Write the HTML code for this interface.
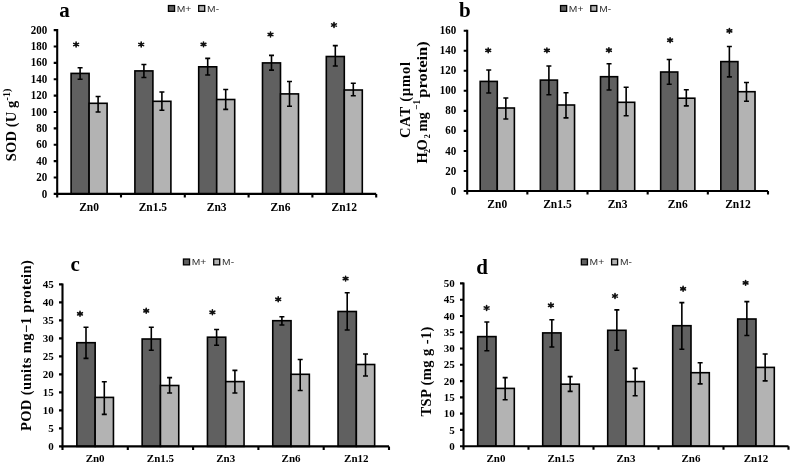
<!DOCTYPE html>
<html><head><meta charset="utf-8"><style>
html,body{margin:0;padding:0;background:#fff;}
body{width:792px;height:465px;overflow:hidden;}
svg{display:block;filter:grayscale(1);}
text{font-family:'Liberation Serif', serif;}
.tl{font-size:11px;font-weight:bold;text-anchor:end;}
.cl{font-weight:bold;text-anchor:middle;}
.ti{font-size:21px;font-weight:bold;}
.st{font-size:15px;font-family:'Liberation Sans', sans-serif;text-anchor:middle;fill:#222;}
.lg{font-size:8.5px;font-family:'Liberation Sans', sans-serif;fill:#333;}
.yl{font-size:14.5px;font-weight:bold;}
</style></head><body>
<svg width="792" height="465" viewBox="0 0 792 465">
<g>
<rect width="792" height="465" fill="#fff"/>
<rect x="71.1" y="73.4" width="18" height="120.5" fill="#606060" stroke="#000" stroke-width="1.6"/>
<rect x="89.1" y="103.3" width="18" height="90.6" fill="#b3b3b3" stroke="#000" stroke-width="1.6"/>
<path d="M80.1 67.8V79.2M77.6 67.8H82.6M77.6 79.2H82.6" stroke="#000" stroke-width="1.6" fill="none"/>
<path d="M98.1 96.5V112M95.6 96.5H100.6M95.6 112H100.6" stroke="#000" stroke-width="1.6" fill="none"/>
<path d="M76.1 42.1L76.1 46.9M73.71 43.38L78.49 45.62M78.49 43.38L73.71 45.62" stroke="#111" stroke-width="1.6" stroke-linecap="round" fill="none"/><circle cx="76.1" cy="44.5" r="1.3" fill="#111"/>
<text x="89.1" y="210.8" class="cl" font-size="11.5">Zn0</text>
<rect x="134.9" y="70.9" width="18" height="123" fill="#606060" stroke="#000" stroke-width="1.6"/>
<rect x="152.9" y="101.3" width="18" height="92.6" fill="#b3b3b3" stroke="#000" stroke-width="1.6"/>
<path d="M143.9 64.5V77.5M141.4 64.5H146.4M141.4 77.5H146.4" stroke="#000" stroke-width="1.6" fill="none"/>
<path d="M161.9 92V110.2M159.4 92H164.4M159.4 110.2H164.4" stroke="#000" stroke-width="1.6" fill="none"/>
<path d="M141.2 42.1L141.2 46.9M138.81 43.38L143.59 45.62M143.59 43.38L138.81 45.62" stroke="#111" stroke-width="1.6" stroke-linecap="round" fill="none"/><circle cx="141.2" cy="44.5" r="1.3" fill="#111"/>
<text x="152.9" y="210.8" class="cl" font-size="11.5">Zn1.5</text>
<rect x="198.7" y="66.8" width="18" height="127.1" fill="#606060" stroke="#000" stroke-width="1.6"/>
<rect x="216.7" y="99.5" width="18" height="94.4" fill="#b3b3b3" stroke="#000" stroke-width="1.6"/>
<path d="M207.7 58.4V75M205.2 58.4H210.2M205.2 75H210.2" stroke="#000" stroke-width="1.6" fill="none"/>
<path d="M225.7 89.5V109.4M223.2 89.5H228.2M223.2 109.4H228.2" stroke="#000" stroke-width="1.6" fill="none"/>
<path d="M203.5 42L203.5 46.8M201.11 43.28L205.89 45.52M205.89 43.28L201.11 45.52" stroke="#111" stroke-width="1.6" stroke-linecap="round" fill="none"/><circle cx="203.5" cy="44.4" r="1.3" fill="#111"/>
<text x="216.7" y="210.8" class="cl" font-size="11.5">Zn3</text>
<rect x="262.5" y="62.9" width="18" height="131" fill="#606060" stroke="#000" stroke-width="1.6"/>
<rect x="280.5" y="93.9" width="18" height="100" fill="#b3b3b3" stroke="#000" stroke-width="1.6"/>
<path d="M271.5 55.4V70.1M269 55.4H274M269 70.1H274" stroke="#000" stroke-width="1.6" fill="none"/>
<path d="M289.5 81.5V106.3M287 81.5H292M287 106.3H292" stroke="#000" stroke-width="1.6" fill="none"/>
<path d="M270.5 32.1L270.5 36.9M268.11 33.38L272.89 35.62M272.89 33.38L268.11 35.62" stroke="#111" stroke-width="1.6" stroke-linecap="round" fill="none"/><circle cx="270.5" cy="34.5" r="1.3" fill="#111"/>
<text x="280.5" y="210.8" class="cl" font-size="11.5">Zn6</text>
<rect x="326.3" y="56.5" width="18" height="137.4" fill="#606060" stroke="#000" stroke-width="1.6"/>
<rect x="344.3" y="90" width="18" height="103.9" fill="#b3b3b3" stroke="#000" stroke-width="1.6"/>
<path d="M335.3 45.6V66M332.8 45.6H337.8M332.8 66H337.8" stroke="#000" stroke-width="1.6" fill="none"/>
<path d="M353.3 83.3V95.7M350.8 83.3H355.8M350.8 95.7H355.8" stroke="#000" stroke-width="1.6" fill="none"/>
<path d="M334 22.6L334 27.4M331.61 23.88L336.39 26.12M336.39 23.88L331.61 26.12" stroke="#111" stroke-width="1.6" stroke-linecap="round" fill="none"/><circle cx="334" cy="25" r="1.3" fill="#111"/>
<text x="344.3" y="210.8" class="cl" font-size="11.5">Zn12</text>
<path d="M57.2 29.1V193.9H376.2" stroke="#000" stroke-width="2.1" fill="none"/>
<text transform="translate(47.3 197.5) scale(1 1.12)" class="tl">0</text>
<text transform="translate(47.3 181.12) scale(1 1.12)" class="tl">20</text>
<text transform="translate(47.3 164.74) scale(1 1.12)" class="tl">40</text>
<text transform="translate(47.3 148.36) scale(1 1.12)" class="tl">60</text>
<text transform="translate(47.3 131.98) scale(1 1.12)" class="tl">80</text>
<text transform="translate(47.3 115.6) scale(1 1.12)" class="tl">100</text>
<text transform="translate(47.3 99.22) scale(1 1.12)" class="tl">120</text>
<text transform="translate(47.3 82.84) scale(1 1.12)" class="tl">140</text>
<text transform="translate(47.3 66.46) scale(1 1.12)" class="tl">160</text>
<text transform="translate(47.3 50.08) scale(1 1.12)" class="tl">180</text>
<text transform="translate(47.3 33.7) scale(1 1.12)" class="tl">200</text>
<path d="M53.7 193.9H57.2M53.7 177.52H57.2M53.7 161.14H57.2M53.7 144.76H57.2M53.7 128.38H57.2M53.7 112H57.2M53.7 95.62H57.2M53.7 79.24H57.2M53.7 62.86H57.2M53.7 46.48H57.2M53.7 30.1H57.2M57.2 193.9V197.4M121 193.9V197.4M184.8 193.9V197.4M248.6 193.9V197.4M312.4 193.9V197.4M376.2 193.9V197.4" stroke="#000" stroke-width="2.1" fill="none"/>
<text x="59.3" y="17" class="ti">a</text>
<rect x="168.45" y="5.55" width="6.1" height="5.8" fill="#606060" stroke="#000" stroke-width="1.3"/>
<text x="176.7" y="11.9" class="lg" textLength="14.6" lengthAdjust="spacingAndGlyphs">M+</text>
<rect x="198.7" y="5.55" width="6" height="5.8" fill="#b3b3b3" stroke="#000" stroke-width="1.3"/>
<text x="207.1" y="11.9" class="lg" textLength="12" lengthAdjust="spacingAndGlyphs">M-</text>
<rect x="480.18" y="81.4" width="17.1" height="109.6" fill="#606060" stroke="#000" stroke-width="1.6"/>
<rect x="497.28" y="108" width="17.1" height="83" fill="#b3b3b3" stroke="#000" stroke-width="1.6"/>
<path d="M488.73 70V93M486.23 70H491.23M486.23 93H491.23" stroke="#000" stroke-width="1.6" fill="none"/>
<path d="M505.83 98V119M503.33 98H508.33M503.33 119H508.33" stroke="#000" stroke-width="1.6" fill="none"/>
<path d="M488.2 48L488.2 52.8M485.81 49.28L490.59 51.52M490.59 49.28L485.81 51.52" stroke="#111" stroke-width="1.6" stroke-linecap="round" fill="none"/><circle cx="488.2" cy="50.4" r="1.3" fill="#111"/>
<text x="497.28" y="207.9" class="cl" font-size="11.5">Zn0</text>
<rect x="540.34" y="80.1" width="17.1" height="110.9" fill="#606060" stroke="#000" stroke-width="1.6"/>
<rect x="557.44" y="105" width="17.1" height="86" fill="#b3b3b3" stroke="#000" stroke-width="1.6"/>
<path d="M548.89 66V94.7M546.39 66H551.39M546.39 94.7H551.39" stroke="#000" stroke-width="1.6" fill="none"/>
<path d="M565.99 92.7V117.9M563.49 92.7H568.49M563.49 117.9H568.49" stroke="#000" stroke-width="1.6" fill="none"/>
<path d="M546.9 48L546.9 52.8M544.51 49.28L549.29 51.52M549.29 49.28L544.51 51.52" stroke="#111" stroke-width="1.6" stroke-linecap="round" fill="none"/><circle cx="546.9" cy="50.4" r="1.3" fill="#111"/>
<text x="557.44" y="207.9" class="cl" font-size="11.5">Zn1.5</text>
<rect x="600.5" y="76.7" width="17.1" height="114.3" fill="#606060" stroke="#000" stroke-width="1.6"/>
<rect x="617.6" y="102.3" width="17.1" height="88.7" fill="#b3b3b3" stroke="#000" stroke-width="1.6"/>
<path d="M609.05 63.7V90M606.55 63.7H611.55M606.55 90H611.55" stroke="#000" stroke-width="1.6" fill="none"/>
<path d="M626.15 87.2V115.8M623.65 87.2H628.65M623.65 115.8H628.65" stroke="#000" stroke-width="1.6" fill="none"/>
<path d="M608.9 47.8L608.9 52.6M606.51 49.08L611.29 51.32M611.29 49.08L606.51 51.32" stroke="#111" stroke-width="1.6" stroke-linecap="round" fill="none"/><circle cx="608.9" cy="50.2" r="1.3" fill="#111"/>
<text x="617.6" y="207.9" class="cl" font-size="11.5">Zn3</text>
<rect x="660.66" y="72" width="17.1" height="119" fill="#606060" stroke="#000" stroke-width="1.6"/>
<rect x="677.76" y="98.2" width="17.1" height="92.8" fill="#b3b3b3" stroke="#000" stroke-width="1.6"/>
<path d="M669.21 59.5V84.3M666.71 59.5H671.71M666.71 84.3H671.71" stroke="#000" stroke-width="1.6" fill="none"/>
<path d="M686.31 89.7V105.9M683.81 89.7H688.81M683.81 105.9H688.81" stroke="#000" stroke-width="1.6" fill="none"/>
<path d="M670.1 37.8L670.1 42.6M667.71 39.08L672.49 41.32M672.49 39.08L667.71 41.32" stroke="#111" stroke-width="1.6" stroke-linecap="round" fill="none"/><circle cx="670.1" cy="40.2" r="1.3" fill="#111"/>
<text x="677.76" y="207.9" class="cl" font-size="11.5">Zn6</text>
<rect x="720.82" y="61.6" width="17.1" height="129.4" fill="#606060" stroke="#000" stroke-width="1.6"/>
<rect x="737.92" y="91.7" width="17.1" height="99.3" fill="#b3b3b3" stroke="#000" stroke-width="1.6"/>
<path d="M729.37 46.5V76.9M726.87 46.5H731.87M726.87 76.9H731.87" stroke="#000" stroke-width="1.6" fill="none"/>
<path d="M746.47 82.5V101.3M743.97 82.5H748.97M743.97 101.3H748.97" stroke="#000" stroke-width="1.6" fill="none"/>
<path d="M729.4 28.5L729.4 33.3M727.01 29.78L731.79 32.02M731.79 29.78L727.01 32.02" stroke="#111" stroke-width="1.6" stroke-linecap="round" fill="none"/><circle cx="729.4" cy="30.9" r="1.3" fill="#111"/>
<text x="737.92" y="207.9" class="cl" font-size="11.5">Zn12</text>
<path d="M467.2 29.7V191H768" stroke="#000" stroke-width="2.1" fill="none"/>
<text transform="translate(456.2 194.6) scale(1 1.12)" class="tl">0</text>
<text transform="translate(456.2 174.56) scale(1 1.12)" class="tl">20</text>
<text transform="translate(456.2 154.53) scale(1 1.12)" class="tl">40</text>
<text transform="translate(456.2 134.49) scale(1 1.12)" class="tl">60</text>
<text transform="translate(456.2 114.45) scale(1 1.12)" class="tl">80</text>
<text transform="translate(456.2 94.41) scale(1 1.12)" class="tl">100</text>
<text transform="translate(456.2 74.37) scale(1 1.12)" class="tl">120</text>
<text transform="translate(456.2 54.34) scale(1 1.12)" class="tl">140</text>
<text transform="translate(456.2 34.3) scale(1 1.12)" class="tl">160</text>
<path d="M463.7 191H467.2M463.7 170.96H467.2M463.7 150.93H467.2M463.7 130.89H467.2M463.7 110.85H467.2M463.7 90.81H467.2M463.7 70.77H467.2M463.7 50.74H467.2M463.7 30.7H467.2M467.2 191V194.5M527.36 191V194.5M587.52 191V194.5M647.68 191V194.5M707.84 191V194.5M768 191V194.5" stroke="#000" stroke-width="2.1" fill="none"/>
<text x="459" y="17" class="ti">b</text>
<rect x="560.55" y="5.55" width="6.1" height="5.8" fill="#606060" stroke="#000" stroke-width="1.3"/>
<text x="568.8" y="11.9" class="lg" textLength="14.6" lengthAdjust="spacingAndGlyphs">M+</text>
<rect x="590.8" y="5.55" width="6" height="5.8" fill="#b3b3b3" stroke="#000" stroke-width="1.3"/>
<text x="599.2" y="11.9" class="lg" textLength="12" lengthAdjust="spacingAndGlyphs">M-</text>
<rect x="76.85" y="342.7" width="18.3" height="103.7" fill="#606060" stroke="#000" stroke-width="1.6"/>
<rect x="95.15" y="397.4" width="18.3" height="49" fill="#b3b3b3" stroke="#000" stroke-width="1.6"/>
<path d="M86 327.2V358.4M83.5 327.2H88.5M83.5 358.4H88.5" stroke="#000" stroke-width="1.6" fill="none"/>
<path d="M104.3 381.8V414.4M101.8 381.8H106.8M101.8 414.4H106.8" stroke="#000" stroke-width="1.6" fill="none"/>
<path d="M80 311.4L80 316.2M77.61 312.68L82.39 314.92M82.39 312.68L77.61 314.92" stroke="#111" stroke-width="1.6" stroke-linecap="round" fill="none"/><circle cx="80" cy="313.8" r="1.3" fill="#111"/>
<text x="95.15" y="462.3" class="cl" font-size="11">Zn0</text>
<rect x="142.15" y="339" width="18.3" height="107.4" fill="#606060" stroke="#000" stroke-width="1.6"/>
<rect x="160.45" y="385.5" width="18.3" height="60.9" fill="#b3b3b3" stroke="#000" stroke-width="1.6"/>
<path d="M151.3 327.3V350.3M148.8 327.3H153.8M148.8 350.3H153.8" stroke="#000" stroke-width="1.6" fill="none"/>
<path d="M169.6 377.6V393M167.1 377.6H172.1M167.1 393H172.1" stroke="#000" stroke-width="1.6" fill="none"/>
<path d="M146.2 308.4L146.2 313.2M143.81 309.68L148.59 311.92M148.59 309.68L143.81 311.92" stroke="#111" stroke-width="1.6" stroke-linecap="round" fill="none"/><circle cx="146.2" cy="310.8" r="1.3" fill="#111"/>
<text x="160.45" y="462.3" class="cl" font-size="11">Zn1.5</text>
<rect x="207.45" y="337.2" width="18.3" height="109.2" fill="#606060" stroke="#000" stroke-width="1.6"/>
<rect x="225.75" y="381.6" width="18.3" height="64.8" fill="#b3b3b3" stroke="#000" stroke-width="1.6"/>
<path d="M216.6 329.5V345.3M214.1 329.5H219.1M214.1 345.3H219.1" stroke="#000" stroke-width="1.6" fill="none"/>
<path d="M234.9 370.4V393M232.4 370.4H237.4M232.4 393H237.4" stroke="#000" stroke-width="1.6" fill="none"/>
<path d="M212.4 309.9L212.4 314.7M210.01 311.18L214.79 313.42M214.79 311.18L210.01 313.42" stroke="#111" stroke-width="1.6" stroke-linecap="round" fill="none"/><circle cx="212.4" cy="312.3" r="1.3" fill="#111"/>
<text x="225.75" y="462.3" class="cl" font-size="11">Zn3</text>
<rect x="272.75" y="320.7" width="18.3" height="125.7" fill="#606060" stroke="#000" stroke-width="1.6"/>
<rect x="291.05" y="374.3" width="18.3" height="72.1" fill="#b3b3b3" stroke="#000" stroke-width="1.6"/>
<path d="M281.9 316.8V325M279.4 316.8H284.4M279.4 325H284.4" stroke="#000" stroke-width="1.6" fill="none"/>
<path d="M300.2 359.5V390.5M297.7 359.5H302.7M297.7 390.5H302.7" stroke="#000" stroke-width="1.6" fill="none"/>
<path d="M278.2 296.9L278.2 301.7M275.81 298.18L280.59 300.42M280.59 298.18L275.81 300.42" stroke="#111" stroke-width="1.6" stroke-linecap="round" fill="none"/><circle cx="278.2" cy="299.3" r="1.3" fill="#111"/>
<text x="291.05" y="462.3" class="cl" font-size="11">Zn6</text>
<rect x="338.05" y="311.5" width="18.3" height="134.9" fill="#606060" stroke="#000" stroke-width="1.6"/>
<rect x="356.35" y="364.5" width="18.3" height="81.9" fill="#b3b3b3" stroke="#000" stroke-width="1.6"/>
<path d="M347.2 292.8V330M344.7 292.8H349.7M344.7 330H349.7" stroke="#000" stroke-width="1.6" fill="none"/>
<path d="M365.5 354V376M363 354H368M363 376H368" stroke="#000" stroke-width="1.6" fill="none"/>
<path d="M345.6 276.2L345.6 281M343.21 277.48L347.99 279.72M347.99 277.48L343.21 279.72" stroke="#111" stroke-width="1.6" stroke-linecap="round" fill="none"/><circle cx="345.6" cy="278.6" r="1.3" fill="#111"/>
<text x="356.35" y="462.3" class="cl" font-size="11">Zn12</text>
<path d="M62.5 283.4V446.4H389" stroke="#000" stroke-width="2.1" fill="none"/>
<text x="53.7" y="450" class="tl">0</text>
<text x="53.7" y="432" class="tl">5</text>
<text x="53.7" y="414" class="tl">10</text>
<text x="53.7" y="396" class="tl">15</text>
<text x="53.7" y="378" class="tl">20</text>
<text x="53.7" y="360" class="tl">25</text>
<text x="53.7" y="342" class="tl">30</text>
<text x="53.7" y="324" class="tl">35</text>
<text x="53.7" y="306" class="tl">40</text>
<text x="53.7" y="288" class="tl">45</text>
<path d="M59 446.4H62.5M59 428.4H62.5M59 410.4H62.5M59 392.4H62.5M59 374.4H62.5M59 356.4H62.5M59 338.4H62.5M59 320.4H62.5M59 302.4H62.5M59 284.4H62.5M62.5 446.4V449.9M127.8 446.4V449.9M193.1 446.4V449.9M258.4 446.4V449.9M323.7 446.4V449.9M389 446.4V449.9" stroke="#000" stroke-width="2.1" fill="none"/>
<text x="70.5" y="270.8" class="ti">c</text>
<rect x="183.45" y="259.05" width="6.1" height="5.8" fill="#606060" stroke="#000" stroke-width="1.3"/>
<text x="191.7" y="265.4" class="lg" textLength="14.6" lengthAdjust="spacingAndGlyphs">M+</text>
<rect x="213.7" y="259.05" width="6" height="5.8" fill="#b3b3b3" stroke="#000" stroke-width="1.3"/>
<text x="222.1" y="265.4" class="lg" textLength="12" lengthAdjust="spacingAndGlyphs">M-</text>
<rect x="477.7" y="336.6" width="18.3" height="109.6" fill="#606060" stroke="#000" stroke-width="1.6"/>
<rect x="496" y="388.4" width="18.3" height="57.8" fill="#b3b3b3" stroke="#000" stroke-width="1.6"/>
<path d="M486.85 322V350.8M484.35 322H489.35M484.35 350.8H489.35" stroke="#000" stroke-width="1.6" fill="none"/>
<path d="M505.15 377.6V399.7M502.65 377.6H507.65M502.65 399.7H507.65" stroke="#000" stroke-width="1.6" fill="none"/>
<path d="M486.6 305.6L486.6 310.4M484.21 306.88L488.99 309.12M488.99 306.88L484.21 309.12" stroke="#111" stroke-width="1.6" stroke-linecap="round" fill="none"/><circle cx="486.6" cy="308" r="1.3" fill="#111"/>
<text x="496" y="462.1" class="cl" font-size="11">Zn0</text>
<rect x="542.7" y="332.9" width="18.3" height="113.3" fill="#606060" stroke="#000" stroke-width="1.6"/>
<rect x="561" y="384.2" width="18.3" height="62" fill="#b3b3b3" stroke="#000" stroke-width="1.6"/>
<path d="M551.85 319.7V347M549.35 319.7H554.35M549.35 347H554.35" stroke="#000" stroke-width="1.6" fill="none"/>
<path d="M570.15 376.6V391.4M567.65 376.6H572.65M567.65 391.4H572.65" stroke="#000" stroke-width="1.6" fill="none"/>
<path d="M550.9 302.9L550.9 307.7M548.51 304.18L553.29 306.42M553.29 304.18L548.51 306.42" stroke="#111" stroke-width="1.6" stroke-linecap="round" fill="none"/><circle cx="550.9" cy="305.3" r="1.3" fill="#111"/>
<text x="561" y="462.1" class="cl" font-size="11">Zn1.5</text>
<rect x="607.7" y="330.3" width="18.3" height="115.9" fill="#606060" stroke="#000" stroke-width="1.6"/>
<rect x="626" y="381.6" width="18.3" height="64.6" fill="#b3b3b3" stroke="#000" stroke-width="1.6"/>
<path d="M616.85 309.9V350.3M614.35 309.9H619.35M614.35 350.3H619.35" stroke="#000" stroke-width="1.6" fill="none"/>
<path d="M635.15 368.4V395.7M632.65 368.4H637.65M632.65 395.7H637.65" stroke="#000" stroke-width="1.6" fill="none"/>
<path d="M615 293.6L615 298.4M612.61 294.88L617.39 297.12M617.39 294.88L612.61 297.12" stroke="#111" stroke-width="1.6" stroke-linecap="round" fill="none"/><circle cx="615" cy="296" r="1.3" fill="#111"/>
<text x="626" y="462.1" class="cl" font-size="11">Zn3</text>
<rect x="672.7" y="325.7" width="18.3" height="120.5" fill="#606060" stroke="#000" stroke-width="1.6"/>
<rect x="691" y="372.7" width="18.3" height="73.5" fill="#b3b3b3" stroke="#000" stroke-width="1.6"/>
<path d="M681.85 302.6V349.3M679.35 302.6H684.35M679.35 349.3H684.35" stroke="#000" stroke-width="1.6" fill="none"/>
<path d="M700.15 362.8V383.9M697.65 362.8H702.65M697.65 383.9H702.65" stroke="#000" stroke-width="1.6" fill="none"/>
<path d="M683.1 286.4L683.1 291.2M680.71 287.68L685.49 289.92M685.49 287.68L680.71 289.92" stroke="#111" stroke-width="1.6" stroke-linecap="round" fill="none"/><circle cx="683.1" cy="288.8" r="1.3" fill="#111"/>
<text x="691" y="462.1" class="cl" font-size="11">Zn6</text>
<rect x="737.7" y="319" width="18.3" height="127.2" fill="#606060" stroke="#000" stroke-width="1.6"/>
<rect x="756" y="367.4" width="18.3" height="78.8" fill="#b3b3b3" stroke="#000" stroke-width="1.6"/>
<path d="M746.85 301.6V335.5M744.35 301.6H749.35M744.35 335.5H749.35" stroke="#000" stroke-width="1.6" fill="none"/>
<path d="M765.15 354V380.9M762.65 354H767.65M762.65 380.9H767.65" stroke="#000" stroke-width="1.6" fill="none"/>
<path d="M745.6 280.5L745.6 285.3M743.21 281.78L747.99 284.02M747.99 281.78L743.21 284.02" stroke="#111" stroke-width="1.6" stroke-linecap="round" fill="none"/><circle cx="745.6" cy="282.9" r="1.3" fill="#111"/>
<text x="756" y="462.1" class="cl" font-size="11">Zn12</text>
<path d="M463.5 282.4V446.2H788.5" stroke="#000" stroke-width="2.1" fill="none"/>
<text x="454.7" y="449.8" class="tl">0</text>
<text x="454.7" y="433.52" class="tl">5</text>
<text x="454.7" y="417.24" class="tl">10</text>
<text x="454.7" y="400.96" class="tl">15</text>
<text x="454.7" y="384.68" class="tl">20</text>
<text x="454.7" y="368.4" class="tl">25</text>
<text x="454.7" y="352.12" class="tl">30</text>
<text x="454.7" y="335.84" class="tl">35</text>
<text x="454.7" y="319.56" class="tl">40</text>
<text x="454.7" y="303.28" class="tl">45</text>
<text x="454.7" y="287" class="tl">50</text>
<path d="M460 446.2H463.5M460 429.92H463.5M460 413.64H463.5M460 397.36H463.5M460 381.08H463.5M460 364.8H463.5M460 348.52H463.5M460 332.24H463.5M460 315.96H463.5M460 299.68H463.5M460 283.4H463.5M463.5 446.2V449.7M528.5 446.2V449.7M593.5 446.2V449.7M658.5 446.2V449.7M723.5 446.2V449.7M788.5 446.2V449.7" stroke="#000" stroke-width="2.1" fill="none"/>
<text x="476.3" y="274.3" class="ti">d</text>
<rect x="581.35" y="259.05" width="6.1" height="5.8" fill="#606060" stroke="#000" stroke-width="1.3"/>
<text x="589.6" y="265.4" class="lg" textLength="14.6" lengthAdjust="spacingAndGlyphs">M+</text>
<rect x="611.6" y="259.05" width="6" height="5.8" fill="#b3b3b3" stroke="#000" stroke-width="1.3"/>
<text x="620" y="265.4" class="lg" textLength="12" lengthAdjust="spacingAndGlyphs">M-</text>
<text transform="translate(15.9 161.2) rotate(-90)" class="yl" textLength="72.6" lengthAdjust="spacing">SOD (U g<tspan font-size="10" dy="-6">-1)</tspan></text>
<text transform="translate(409.6 138) rotate(-90)" class="yl" textLength="76" lengthAdjust="spacing">CAT (µmol</text>
<text transform="translate(427.4 163.3) rotate(-90)" class="yl"><tspan x="-0.3">H</tspan><tspan font-size="8" x="10.2" dy="2.5">2</tspan><tspan x="12.9" dy="-2.5">O</tspan><tspan font-size="8" x="25" dy="2.5">2</tspan><tspan x="31.8" dy="-2.5">mg</tspan><tspan font-size="10" x="53.6" dy="-7" textLength="10" lengthAdjust="spacingAndGlyphs">−1</tspan><tspan x="65.6" dy="7" textLength="56.5" lengthAdjust="spacingAndGlyphs">protein)</tspan></text>
<text transform="translate(30.9 431.1) rotate(-90)" class="yl" textLength="171" lengthAdjust="spacing">POD (units mg−1 protein)</text>
<text transform="translate(431.3 416.6) rotate(-90)" class="yl" textLength="90" lengthAdjust="spacing">TSP (mg g -1)</text>
</g>
</svg>
</body></html>
